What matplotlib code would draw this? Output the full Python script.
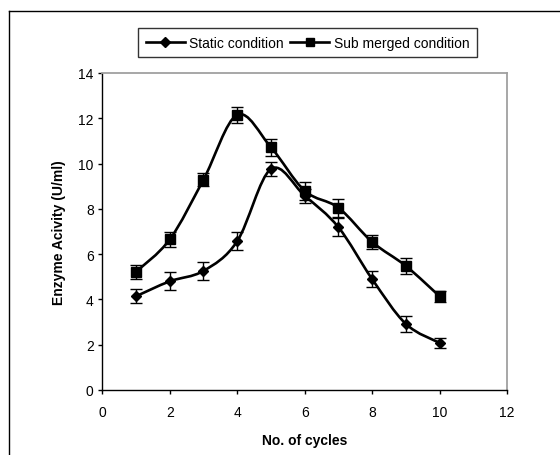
import matplotlib
matplotlib.use("Agg")
import matplotlib.pyplot as plt
import numpy as np
from matplotlib.path import Path
from matplotlib.patches import PathPatch
from matplotlib.lines import Line2D

plt.rcParams["font.family"] = ["Liberation Sans", "DejaVu Sans"]

cycles = [1, 2, 3, 4, 5, 6, 7, 8, 9, 10]
static = [4.14, 4.8, 5.26, 6.57, 9.76, 8.58, 7.19, 4.9, 2.92, 2.08]
static_err = [0.3, 0.4, 0.4, 0.4, 0.33, 0.3, 0.4, 0.37, 0.35, 0.23]
submerged = [5.22, 6.65, 9.29, 12.15, 10.72, 8.8, 8.05, 6.54, 5.48, 4.14]
submerged_err = [0.3, 0.35, 0.3, 0.35, 0.37, 0.4, 0.4, 0.3, 0.37, 0.25]


def smooth_path(x, y):
    # Excel-style smoothed line: cubic Bezier through every point
    x = np.asarray(x, float)
    y = np.asarray(y, float)
    n = len(x)
    verts = [(x[0], y[0])]
    codes = [Path.MOVETO]
    for i in range(n - 1):
        i0 = max(i - 1, 0)
        i3 = min(i + 2, n - 1)
        c1 = (x[i] + (x[i + 1] - x[i0]) / 6, y[i] + (y[i + 1] - y[i0]) / 6)
        c2 = (x[i + 1] - (x[i3] - x[i]) / 6, y[i + 1] - (y[i3] - y[i]) / 6)
        verts += [c1, c2, (x[i + 1], y[i + 1])]
        codes += [Path.CURVE4] * 3
    return Path(verts, codes)


fig = plt.figure(figsize=(5.6, 4.56), dpi=100)
ax = fig.add_axes([102.3 / 560, 65 / 456, 404.7 / 560, 317 / 456])

for yv, err, marker, msize in [(static, static_err, "D", 5.5),
                               (submerged, submerged_err, "s", 6.5)]:
    ax.add_patch(PathPatch(smooth_path(cycles, yv), fill=False,
                           edgecolor="black", lw=1.9, zorder=2))
    ax.errorbar(cycles, yv, yerr=err, fmt="none", ecolor="black",
                elinewidth=1, capsize=4, capthick=1, zorder=3)
    ax.plot(cycles, yv, linestyle="none", marker=marker, ms=msize,
            color="black", zorder=4)

ax.set_xlim(0, 12)
ax.set_ylim(0, 14)
ax.set_xticks(range(0, 13, 2))
ax.set_yticks(range(0, 15, 2))
ax.tick_params(direction="out", length=2.7, width=1, labelsize=10,
               color="black")
ax.tick_params(axis="y", pad=3.5)
ax.tick_params(axis="x", pad=8)
for s in ["top", "right"]:
    ax.spines[s].set_color("#a0a0a0")
    ax.spines[s].set_linewidth(1.3)
for s in ["left", "bottom"]:
    ax.spines[s].set_color("black")
    ax.spines[s].set_linewidth(1)

ax.set_xlabel("No. of cycles", fontsize=10, fontweight="bold", labelpad=10)
ax.set_ylabel("Enzyme Acivity (U/ml)", fontsize=10, fontweight="bold",
              labelpad=9)

handles = [
    Line2D([], [], color="black", lw=1.9, marker="D", ms=5),
    Line2D([], [], color="black", lw=1.9, marker="s", ms=6),
]
leg = fig.legend(handles, ["Static condition", "Sub merged condition"],
                 loc="center", bbox_to_anchor=(307.5 / 560, 1 - 43.5 / 456),
                 ncol=2, fontsize=10, frameon=True, fancybox=False,
                 handlelength=2.8, handletextpad=0.3, columnspacing=0.5,
                 borderpad=0.55, borderaxespad=0)
leg.get_frame().set_edgecolor("black")
leg.get_frame().set_linewidth(1)

# outer chart border (left and top visible)
fig.add_artist(Line2D([9 / 560, 9 / 560], [0, 1 - 12 / 456],
                      transform=fig.transFigure, color="black", lw=1))
fig.add_artist(Line2D([9 / 560, 1], [1 - 12 / 456, 1 - 12 / 456],
                      transform=fig.transFigure, color="black", lw=1))

fig.savefig("out.png", dpi=100)
